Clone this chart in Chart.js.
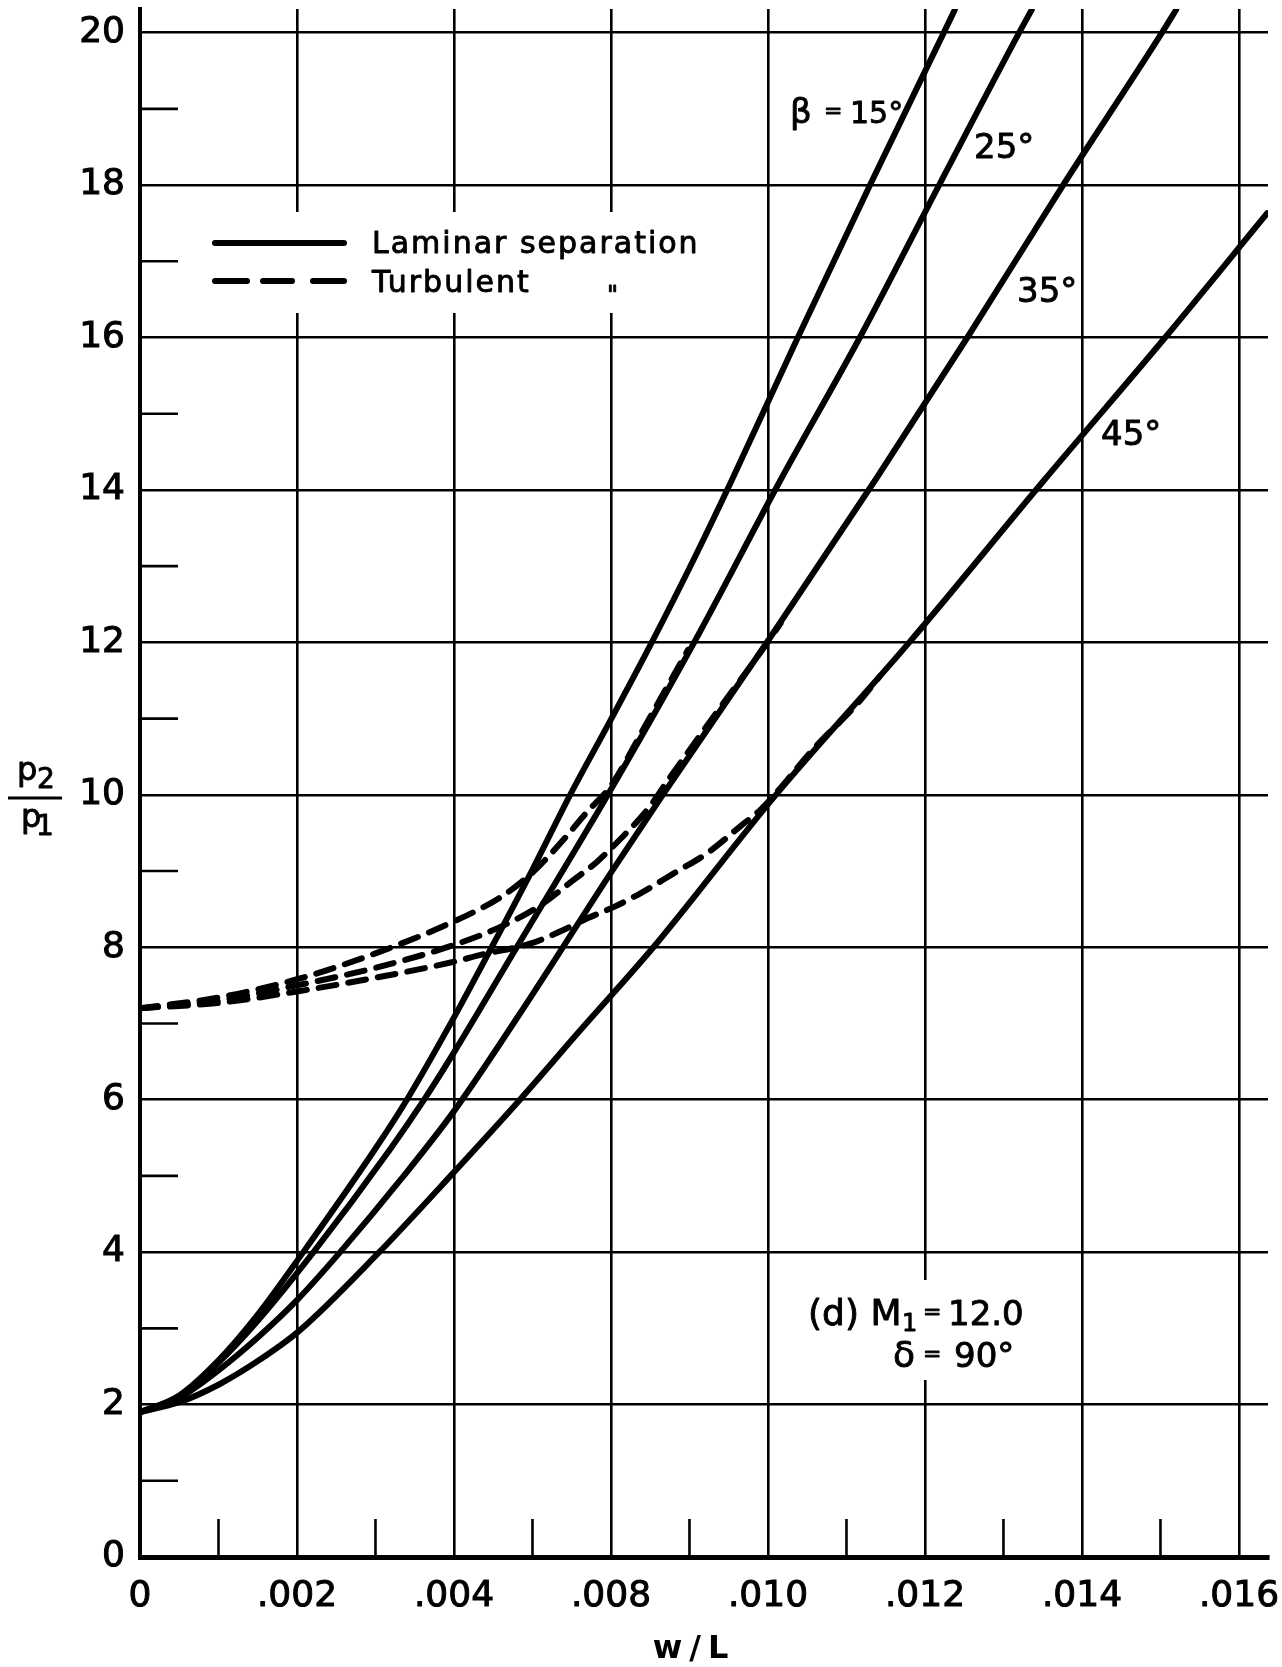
<!DOCTYPE html>
<html>
<head>
<meta charset="utf-8">
<title>p2/p1 against w/L</title>
<script src="https://cdn.jsdelivr.net/npm/chart.js@4.4.1/dist/chart.umd.min.js"></script>
<style>
  html, body { margin: 0; padding: 0; background: #fff; }
  #wrap { width: 1282px; height: 1667px; }
</style>
</head>
<body>
<div id="wrap"><canvas id="chart" width="1282" height="1667"></canvas></div>
<script>
// ---- axis ticks ----
const xTickLabels = ['0', '.002', '.004', '.008', '.010', '.012', '.014', '.016'];
const yTickLabels = ['0', '2', '4', '6', '8', '10', '12', '14', '16', '18', '20'];
const xMinor = [0.001, 0.003, 0.005, 0.007, 0.009, 0.011, 0.013];
const yMinor = [1, 3, 5, 7, 9, 11, 13, 15, 17, 19];

// ---- laminar separation, one curve per beta ----
const beta15X = [0, 0.0005, 0.001, 0.0015, 0.00208, 0.003, 0.0034, 0.004, 0.00448, 0.005, 0.00548, 0.006, 0.00652, 0.00706, 0.00754, 0.00838, 0.0093, 0.01024, 0.01038];
const beta15Y = [1.9, 2.12, 2.58, 3.18, 4.0, 5.36, 6.0, 7.08, 8.0, 9.02, 10.0, 10.99, 12.0, 13.1, 14.13, 16.0, 18.0, 20.0, 20.3];

const beta25X = [0, 0.0005, 0.001, 0.0015, 0.00221, 0.00318, 0.00362, 0.004, 0.0048, 0.00596, 0.00706, 0.00816, 0.00917, 0.01018, 0.0112, 0.01136];
const beta25Y = [1.9, 2.11, 2.55, 3.1, 4.0, 5.34, 6.0, 6.62, 8.0, 10.0, 12.0, 14.13, 16.0, 18.0, 20.0, 20.3];

const beta35X = [0, 0.0005, 0.001, 0.0015, 0.002, 0.00255, 0.00332, 0.004, 0.00498, 0.006, 0.00666, 0.00802, 0.00938, 0.01054, 0.01176, 0.01302, 0.0132];
const beta35Y = [1.9, 2.09, 2.45, 2.88, 3.37, 4.0, 4.95, 5.85, 7.35, 8.98, 10.0, 12.05, 14.15, 16.0, 18.0, 20.0, 20.3];

const beta45X = [0, 0.0005, 0.001, 0.0015, 0.00202, 0.00302, 0.004, 0.00484, 0.0056, 0.00654, 0.0081, 0.0098, 0.01152, 0.01306, 0.01436];
const beta45Y = [1.9, 2.03, 2.26, 2.57, 2.96, 3.97, 5.05, 6.0, 6.9, 8.0, 10.0, 12.0, 14.13, 16.0, 17.63];

// ---- turbulent separation (each runs into a laminar curve) ----
const turbAX = [0, 0.001, 0.002, 0.003, 0.004, 0.0046, 0.005, 0.00536, 0.0057, 0.006, 0.00646, 0.00698];
const turbAY = [7.2, 7.34, 7.58, 7.92, 8.34, 8.66, 8.98, 9.37, 9.78, 10.12, 10.95, 11.9];

const turbBX = [0, 0.001, 0.002, 0.003, 0.004, 0.00464, 0.0051, 0.00552, 0.00582, 0.00612, 0.00646, 0.00676, 0.00736, 0.00796, 0.00816];
const turbBY = [7.2, 7.3, 7.5, 7.73, 8.03, 8.29, 8.55, 8.88, 9.12, 9.42, 9.8, 10.24, 11.1, 11.95, 12.25];

const turbCX = [0, 0.001, 0.002, 0.003, 0.004, 0.00434, 0.00498, 0.00542, 0.0057, 0.00604, 0.00638, 0.0068, 0.00722, 0.00764, 0.0079, 0.0081, 0.00856, 0.00916, 0.00942];
const turbCY = [7.2, 7.27, 7.42, 7.6, 7.81, 7.9, 8.05, 8.24, 8.38, 8.53, 8.71, 8.97, 9.23, 9.58, 9.8, 10.02, 10.58, 11.22, 11.55];

const FONT = '"DejaVu Sans", "Liberation Sans", sans-serif';

function curve(xs, ys, dashed) {
    return {
        data: xs.map((x, i) => ({ x: x, y: ys[i] })),
        borderColor: '#000',
        borderWidth: 6,
        pointRadius: 0,
        fill: false,
        cubicInterpolationMode: 'monotone',
        borderCapStyle: 'round',
        borderJoinStyle: 'round',
        borderDash: dashed ? [18, 12] : []
    };
}

// filled and lightly stroked, so the lettering has the weight of the ink drawing
function ink(ctx, text, x, y) {
    ctx.fillText(text, x, y);
    ctx.strokeText(text, x, y);
}

// minor ticks, blank patches behind the key and the note, and all loose text
const extras = {
    id: 'extras',
    beforeDatasetsDraw(chart) {
        const ctx = chart.ctx;
        const xs = chart.scales.x, ys = chart.scales.y;
        ctx.save();
        ctx.fillStyle = '#fff';
        ctx.fillRect(205, 212, 500, 101);
        ctx.fillRect(800, 1280, 235, 100);

        ctx.strokeStyle = '#000';
        ctx.lineWidth = 2.6;
        ctx.beginPath();
        yMinor.forEach(v => {
            const py = ys.getPixelForValue(v);
            ctx.moveTo(xs.left, py);
            ctx.lineTo(xs.left + 38, py);
        });
        xMinor.forEach(v => {
            const px = xs.getPixelForValue(v);
            ctx.moveTo(px, ys.bottom);
            ctx.lineTo(px, ys.bottom - 38);
        });
        ctx.stroke();
        ctx.restore();
    },
    afterDraw(chart) {
        const ctx = chart.ctx;
        ctx.save();
        ctx.fillStyle = '#000';
        ctx.strokeStyle = '#000';
        ctx.textBaseline = 'alphabetic';
        ctx.textAlign = 'left';

        // key lines
        ctx.lineWidth = 6;
        ctx.lineCap = 'round';
        ctx.beginPath();
        ctx.moveTo(215, 243);
        ctx.lineTo(344, 243);
        [[215, 247], [263, 292], [313, 344]].forEach(seg => {
            ctx.moveTo(seg[0], 281);
            ctx.lineTo(seg[1], 281);
        });
        ctx.stroke();

        // y title as a fraction
        ctx.lineWidth = 3;
        ctx.lineCap = 'butt';
        ctx.beginPath();
        ctx.moveTo(8, 798);
        ctx.lineTo(62, 798);
        ctx.stroke();

        ctx.lineWidth = 0.9;
        ctx.lineJoin = 'round';
        ctx.font = '32px ' + FONT;
        ink(ctx, 'p', 17, 780);
        ink(ctx, 'p', 21, 827);
        ctx.font = '28px ' + FONT;
        ink(ctx, '2', 37, 788);
        ink(ctx, '1', 36, 835);

        // x title
        ctx.font = 'bold 32px ' + FONT;
        ctx.textAlign = 'center';
        if ('letterSpacing' in ctx) ctx.letterSpacing = '7px';
        ctx.fillText('w/L', 694, 1658);
        if ('letterSpacing' in ctx) ctx.letterSpacing = '0px';
        ctx.textAlign = 'left';

        // key text
        ctx.font = '30px ' + FONT;
        if ('letterSpacing' in ctx) ctx.letterSpacing = '2px';
        ink(ctx, 'Laminar separation', 372, 253);
        ink(ctx, 'Turbulent', 372, 292);
        if ('letterSpacing' in ctx) ctx.letterSpacing = '0px';
        ctx.font = '24px ' + FONT;
        ink(ctx, '"', 607, 303);

        // curve labels
        ctx.font = '34px ' + FONT;
        ink(ctx, '\u03B2', 790, 123);
        ctx.font = '22px ' + FONT;
        ink(ctx, '=', 824, 118);
        ctx.font = '30px ' + FONT;
        ink(ctx, '15\u00B0', 850, 123);
        ctx.font = '34px ' + FONT;
        ink(ctx, '25\u00B0', 974, 158);
        ink(ctx, '35\u00B0', 1017, 302);
        ink(ctx, '45\u00B0', 1101, 445);

        // case note
        ctx.font = '36px ' + FONT;
        ink(ctx, '(d) M', 808, 1325);
        ctx.font = '24px ' + FONT;
        ink(ctx, '1', 902, 1331);
        ctx.font = '22px ' + FONT;
        ink(ctx, '=', 923, 1319);
        ctx.font = '34px ' + FONT;
        ink(ctx, '12.0', 948, 1325);
        ctx.font = '36px ' + FONT;
        ink(ctx, '\u03B4', 893, 1367);
        ctx.font = '22px ' + FONT;
        ink(ctx, '=', 923, 1361);
        ctx.font = '34px ' + FONT;
        ink(ctx, '90\u00B0', 954, 1367);
        ctx.restore();
    }
};

new Chart(document.getElementById('chart').getContext('2d'), {
    type: 'line',
    data: {
        datasets: [
            curve(turbAX, turbAY, true),
            curve(turbBX, turbBY, true),
            curve(turbCX, turbCY, true),
            curve(beta15X, beta15Y, false),
            curve(beta25X, beta25Y, false),
            curve(beta35X, beta35Y, false),
            curve(beta45X, beta45Y, false)
        ]
    },
    options: {
        responsive: false,
        animation: false,
        events: [],
        layout: { padding: { top: 9, right: 14, left: 0, bottom: 0 } },
        plugins: {
            legend: { display: false },
            tooltip: { enabled: false }
        },
        scales: {
            x: {
                type: 'linear',
                min: 0,
                max: 0.01437,
                border: { display: true, color: '#000', width: 5 },
                grid: { color: '#000', lineWidth: 2.6, drawTicks: false },
                ticks: {
                    stepSize: 0.002,
                    includeBounds: false,
                    autoSkip: false,
                    maxRotation: 0,
                    padding: 18,
                    color: '#000',
                    textStrokeColor: '#000',
                    textStrokeWidth: 1,
                    font: { family: FONT, size: 36 },
                    callback: (v, i) => xTickLabels[i]
                },
                afterFit: s => { s.height = 110; s.paddingLeft = 0; s.paddingRight = 0; }
            },
            y: {
                min: 0,
                max: 20.31,
                border: { display: true, color: '#000', width: 4 },
                grid: { color: '#000', lineWidth: 2.6, drawTicks: false },
                ticks: {
                    stepSize: 2,
                    includeBounds: false,
                    padding: 15,
                    color: '#000',
                    textStrokeColor: '#000',
                    textStrokeWidth: 1,
                    font: { family: FONT, size: 36 },
                    callback: (v, i) => yTickLabels[i]
                },
                afterFit: s => { s.width = 140; s.paddingTop = 0; s.paddingBottom = 0; }
            }
        }
    },
    plugins: [extras]
});
</script>
</body>
</html>
